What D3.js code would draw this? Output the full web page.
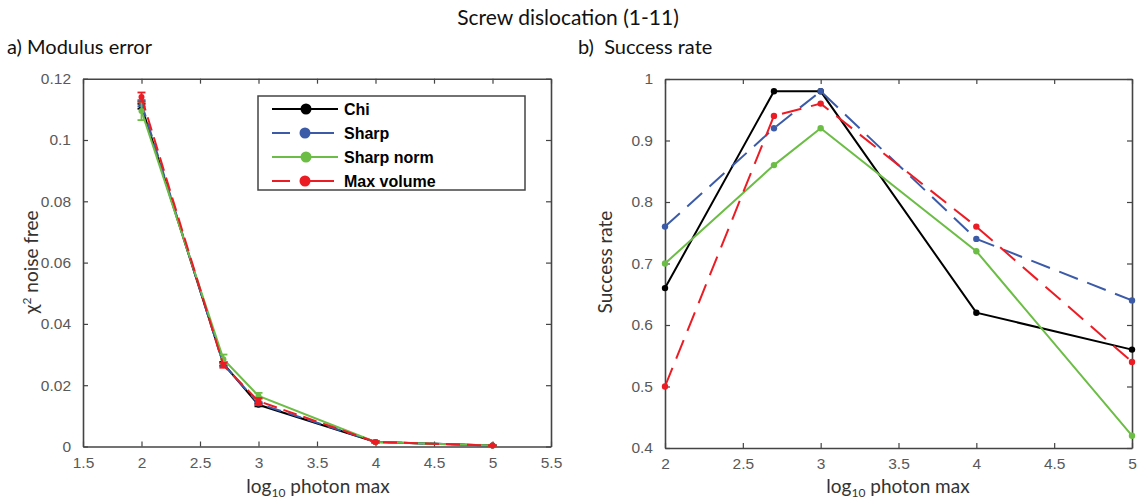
<!DOCTYPE html>
<html>
<head>
<meta charset="utf-8">
<script src="https://cdn.jsdelivr.net/npm/d3@7"></script>
<style>
  body { margin: 0; background: #fff; }
  svg text { font-family: "Liberation Sans", Arial, sans-serif; }
  .ttl { font-family: "Lato", "Open Sans", sans-serif; fill: #111; }
</style>
</head>
<body>
<svg id="chart" width="1140" height="501"></svg>
<script>
// x positions (log10 photon max)
const photonLog = [2, 2.7, 3, 4, 5];

// series names / styles
const seriesNames = ["Chi", "Sharp", "Sharp norm", "Max volume"];
const seriesColors = ["#000000", "#3b5ba9", "#6cbd45", "#ec1c24"];
const seriesDash = [null, "14,7", null, "14,7"];

// a) modulus error (chi^2 noise free) and error bars
const chiErr = [0.1110, 0.0270, 0.0136, 0.0015, 0.0003];
const sharpErr = [0.1120, 0.0268, 0.0140, 0.0015, 0.0003];
const sharpNormErr = [0.1095, 0.0285, 0.0165, 0.0015, 0.0003];
const maxVolErr = [0.1140, 0.0265, 0.0148, 0.0015, 0.0003];

const chiBar = [0.0008, 0.0006, 0.0005, 0.0002, 0.0001];
const sharpBar = [0.0010, 0.0006, 0.0005, 0.0002, 0.0001];
const sharpNormBar = [0.0030, 0.0015, 0.0010, 0.0002, 0.0001];
const maxVolBar = [0.0015, 0.0008, 0.0010, 0.0002, 0.0001];

// b) success rate
const chiRate = [0.66, 0.98, 0.98, 0.62, 0.56];
const sharpRate = [0.76, 0.92, 0.98, 0.74, 0.64];
const sharpNormRate = [0.70, 0.86, 0.92, 0.72, 0.42];
const maxVolRate = [0.50, 0.94, 0.96, 0.76, 0.54];

// ticks
const leftXTicks = [1.5, 2, 2.5, 3, 3.5, 4, 4.5, 5, 5.5];
const leftYTicks = [0, 0.02, 0.04, 0.06, 0.08, 0.1, 0.12];
const rightXTicks = [2, 2.5, 3, 3.5, 4, 4.5, 5];
const rightYTicks = [0.4, 0.5, 0.6, 0.7, 0.8, 0.9, 1];

const errValues = [chiErr, sharpErr, sharpNormErr, maxVolErr];
const errBars = [chiBar, sharpBar, sharpNormBar, maxVolBar];
const rateValues = [chiRate, sharpRate, sharpNormRate, maxVolRate];

const svg = d3.select("#chart");
const axisColor = "#444";
const tickColor = "#595959";

// main title
svg.append("text").attr("class", "ttl")
    .attr("x", 568).attr("y", 25)
    .attr("text-anchor", "middle")
    .style("font-size", "21px")
    .text("Screw dislocation (1-11)");

svg.append("text").attr("class", "ttl")
    .attr("x", 7).attr("y", 54)
    .style("font-size", "20px")
    .text("a) Modulus error");

svg.append("text").attr("class", "ttl")
    .attr("x", 578).attr("y", 54)
    .style("font-size", "20px")
    .attr("xml:space", "preserve")
    .text("b)  Success rate");

/**
 * Draws a boxed axis frame (matlab style, ticks inside on all four sides)
 */
function drawFrame(g, x, y, xTicks, yTicks, xFmt, yFmt) {
    const [x0, x1] = x.range();
    const [y0, y1] = y.range();

    g.append("g")
        .attr("transform", `translate(0,${y0})`)
        .call(d3.axisBottom(x).tickValues(xTicks).tickSizeInner(-5).tickSizeOuter(0).tickPadding(10).tickFormat(xFmt));
    g.append("g")
        .attr("transform", `translate(0,${y1})`)
        .call(d3.axisTop(x).tickValues(xTicks).tickSizeInner(-5).tickSizeOuter(0).tickFormat(""));
    g.append("g")
        .attr("transform", `translate(${x0},0)`)
        .call(d3.axisLeft(y).tickValues(yTicks).tickSizeInner(-5).tickSizeOuter(0).tickPadding(12).tickFormat(yFmt));
    g.append("g")
        .attr("transform", `translate(${x1},0)`)
        .call(d3.axisRight(y).tickValues(yTicks).tickSizeInner(-5).tickSizeOuter(0).tickFormat(""));

    g.selectAll(".domain").attr("stroke", axisColor).attr("stroke-width", 1.6);
    g.selectAll(".tick line").attr("stroke", axisColor).attr("stroke-width", 1.2);
    g.selectAll(".tick text").attr("fill", tickColor).style("font-size", "15.5px")
        .style("font-family", "'Liberation Sans', Arial, sans-serif");
}

function xLabel(g, cx, cy) {
    const t = g.append("text").attr("class", "ttl")
        .attr("x", cx).attr("y", cy)
        .attr("text-anchor", "middle")
        .style("font-size", "19px")
        .style("fill", "#333");
    t.append("tspan").text("log");
    t.append("tspan").attr("dy", 4).style("font-size", "12px").text("10");
    t.append("tspan").attr("dy", -4).text(" photon max");
}

// ---------- a) Modulus error ----------
const gA = svg.append("g");
const xA = d3.scaleLinear().domain([1.5, 5.5]).range([83, 551]);
const yA = d3.scaleLinear().domain([0, 0.12]).range([446.5, 78.7]);

const fmtA = d => d === 0 ? "0" : d3.format(".2~f")(d);
drawFrame(gA, xA, yA, leftXTicks, leftYTicks, d => d3.format("~g")(d), fmtA);

const lineA = d3.line().x((d, i) => xA(photonLog[i])).y(d => yA(d));

errValues.forEach((vals, s) => {
    const grp = gA.append("g");
    grp.append("path")
        .datum(vals)
        .attr("fill", "none")
        .attr("stroke", seriesColors[s])
        .attr("stroke-width", 2)
        .attr("stroke-dasharray", seriesDash[s])
        .attr("d", lineA);
    // error bars
    vals.forEach((v, i) => {
        const e = errBars[s][i];
        const cx = xA(photonLog[i]);
        grp.append("line")
            .attr("x1", cx).attr("x2", cx)
            .attr("y1", yA(v - e)).attr("y2", yA(v + e))
            .attr("stroke", seriesColors[s]).attr("stroke-width", 1.8);
        [v - e, v + e].forEach(w => {
            grp.append("line")
                .attr("x1", cx - 4).attr("x2", cx + 4)
                .attr("y1", yA(w)).attr("y2", yA(w))
                .attr("stroke", seriesColors[s]).attr("stroke-width", 1.8);
        });
    });
    grp.selectAll("circle")
        .data(vals)
        .enter().append("circle")
        .attr("cx", (d, i) => xA(photonLog[i]))
        .attr("cy", d => yA(d))
        .attr("r", 3)
        .attr("fill", seriesColors[s]);
});

// legend
const leg = gA.append("g").attr("transform", "translate(258,96)");
leg.append("rect")
    .attr("width", 267).attr("height", 94)
    .attr("fill", "#fff")
    .attr("stroke", axisColor).attr("stroke-width", 1.5);
seriesNames.forEach((name, s) => {
    const yy = 13 + s * 24;
    leg.append("line")
        .attr("x1", 14).attr("x2", s % 2 ? 76 : 80)
        .attr("y1", yy).attr("y2", yy)
        .attr("stroke", seriesColors[s]).attr("stroke-width", 2)
        .attr("stroke-dasharray", s % 2 ? "18,10,34" : null);
    leg.append("circle")
        .attr("cx", s % 2 ? 47 : 48).attr("cy", yy).attr("r", 5.5)
        .attr("fill", seriesColors[s]);
    leg.append("text")
        .attr("x", 86).attr("y", yy + 6)
        .style("font-size", "16px").style("font-weight", "bold")
        .attr("fill", "#000")
        .text(name);
});

xLabel(gA, 318, 493);
const yLabA = gA.append("text").attr("class", "ttl")
    .attr("transform", "translate(38,262) rotate(-90)")
    .attr("text-anchor", "middle")
    .style("font-size", "19px").style("fill", "#333");
yLabA.append("tspan").text("χ");
yLabA.append("tspan").attr("dy", -7).style("font-size", "12px").text("2");
yLabA.append("tspan").attr("dy", 7).text(" noise free");

// ---------- b) Success rate ----------
const gB = svg.append("g");
const xB = d3.scaleLinear().domain([2, 5]).range([665, 1132]);
const yB = d3.scaleLinear().domain([0.4, 1]).range([448, 79]);

drawFrame(gB, xB, yB, rightXTicks, rightYTicks, d => d3.format("~g")(d), d => d3.format("~g")(d));

const lineB = d3.line().x((d, i) => xB(photonLog[i])).y(d => yB(d));

rateValues.forEach((vals, s) => {
    gB.append("path")
        .datum(vals)
        .attr("fill", "none")
        .attr("stroke", seriesColors[s])
        .attr("stroke-width", 2)
        .attr("stroke-dasharray", seriesDash[s] ? "20,10" : null)
        .attr("d", lineB);
    gB.append("g").selectAll("circle")
        .data(vals)
        .enter().append("circle")
        .attr("cx", (d, i) => xB(photonLog[i]))
        .attr("cy", d => yB(d))
        .attr("r", 3.2)
        .attr("fill", seriesColors[s]);
});

xLabel(gB, 898, 493);
gB.append("text").attr("class", "ttl")
    .attr("transform", "translate(612,262) rotate(-90)")
    .attr("text-anchor", "middle")
    .style("font-size", "19px").style("fill", "#333")
    .text("Success rate");
</script>
</body>
</html>
